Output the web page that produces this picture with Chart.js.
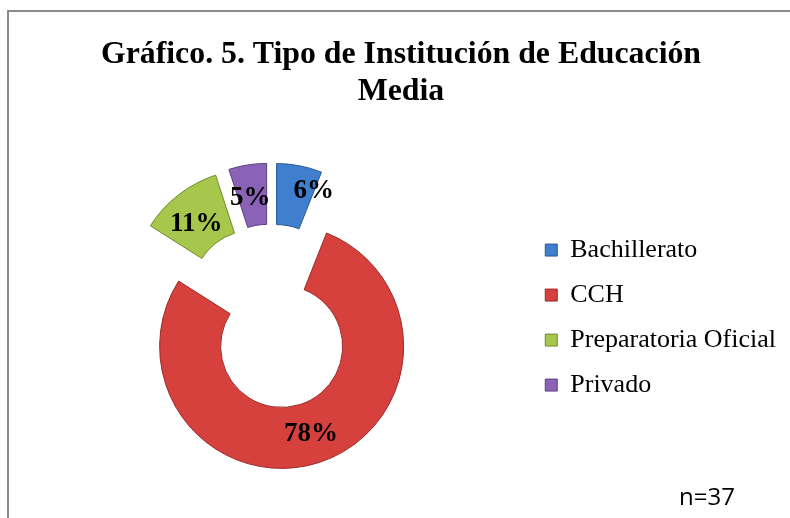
<!DOCTYPE html>
<html>
<head>
<meta charset="utf-8">
<script src="https://cdn.jsdelivr.net/npm/chart.js@4.4.1/dist/chart.umd.min.js"></script>
<style>
  html, body { margin: 0; background: #fff; overflow: hidden; }
  #frame { position: absolute; left: 7px; top: 10px; width: 900px; height: 600px;
           border-left: 2px solid #8a8a8a; border-top: 2px solid #8a8a8a; }
  #chart { position: absolute; left: 0; top: 0; }
  #n { position: absolute; left: 679px; top: 479px; font: 24px "Open Sans"; color: #000; }
</style>
</head>
<body>
<div id="frame"></div>
<canvas id="chart" width="790" height="518"></canvas>
<div id="n">n=37</div>
<script>
// data
const categories = ['Bachillerato', 'CCH', 'Preparatoria Oficial', 'Privado'];
const percentages = [6, 78, 11, 5];
const titleLines = ['Gráfico. 5. Tipo de Institución de Educación', 'Media'];

const sliceColors = ['#3f7fce', '#d6403d', '#a6c64c', '#8a62b6'];
const edgeColors = ['#2a5a96', '#9a2a28', '#6f8c2c', '#5c3f80'];

// pull each slice out from the centre along its middle angle (like an exploded pie)
const explodeSlices = {
    id: 'explodeSlices',
    afterDatasetUpdate(chart, args, opts) {
        args.meta.data.forEach((arc, i) => {
            const mid = (arc.startAngle + arc.endAngle) / 2;
            const d = opts.distance[i] || 0;
            arc.x += Math.cos(mid) * d;
            arc.y += Math.sin(mid) * d;
        });
    }
};

// percentage labels drawn on each slice
const sliceLabels = {
    id: 'sliceLabels',
    afterDatasetsDraw(chart, args, opts) {
        const ctx = chart.ctx;
        const meta = chart.getDatasetMeta(0);
        ctx.save();
        ctx.font = 'bold 27px "Liberation Serif"';
        ctx.fillStyle = '#000';
        ctx.textAlign = 'center';
        ctx.textBaseline = 'middle';
        meta.data.forEach((arc, i) => {
            const mid = (arc.startAngle + arc.endAngle) / 2;
            const r = (arc.innerRadius + arc.outerRadius) / 2;
            const dx = opts.nudgeX[i] || 0;
            const dy = opts.nudgeY[i] || 0;
            ctx.fillText(percentages[i] + '%', arc.x + Math.cos(mid) * r + dx, arc.y + Math.sin(mid) * r + dy);
        });
        ctx.restore();
    }
};

new Chart(document.getElementById('chart'), {
    type: 'doughnut',
    data: {
        labels: categories,
        datasets: [{
            data: percentages,
            backgroundColor: sliceColors,
            borderColor: edgeColors,
            borderWidth: 1
        }]
    },
    options: {
        responsive: false,
        animation: false,
        events: [],
        cutout: '50%',
        radius: 122,
        layout: { padding: { left: 16, right: 4, top: 0, bottom: 0 } },
        plugins: {
            tooltip: { enabled: false },
            title: {
                display: true,
                text: titleLines,
                color: '#000',
                font: { family: 'Liberation Serif', size: 31.8, weight: 'bold', lineHeight: 1.15 },
                padding: { top: 37, bottom: 0 }
            },
            legend: {
                position: 'right',
                fullSize: false,
                title: { display: true, text: '', font: { size: 4, lineHeight: 1 }, padding: 1.5 },
                labels: {
                    color: '#000',
                    font: { family: 'Liberation Serif', size: 26 },
                    boxWidth: 12,
                    boxHeight: 12,
                    padding: 19
                }
            },
            explodeSlices: { distance: [29, 34, 29, 29] },
            sliceLabels: { nudgeX: [20, 1, -1, -2], nudgeY: [-5, 1, 5, 3] }
        }
    },
    plugins: [explodeSlices, sliceLabels]
});
</script>
</body>
</html>
